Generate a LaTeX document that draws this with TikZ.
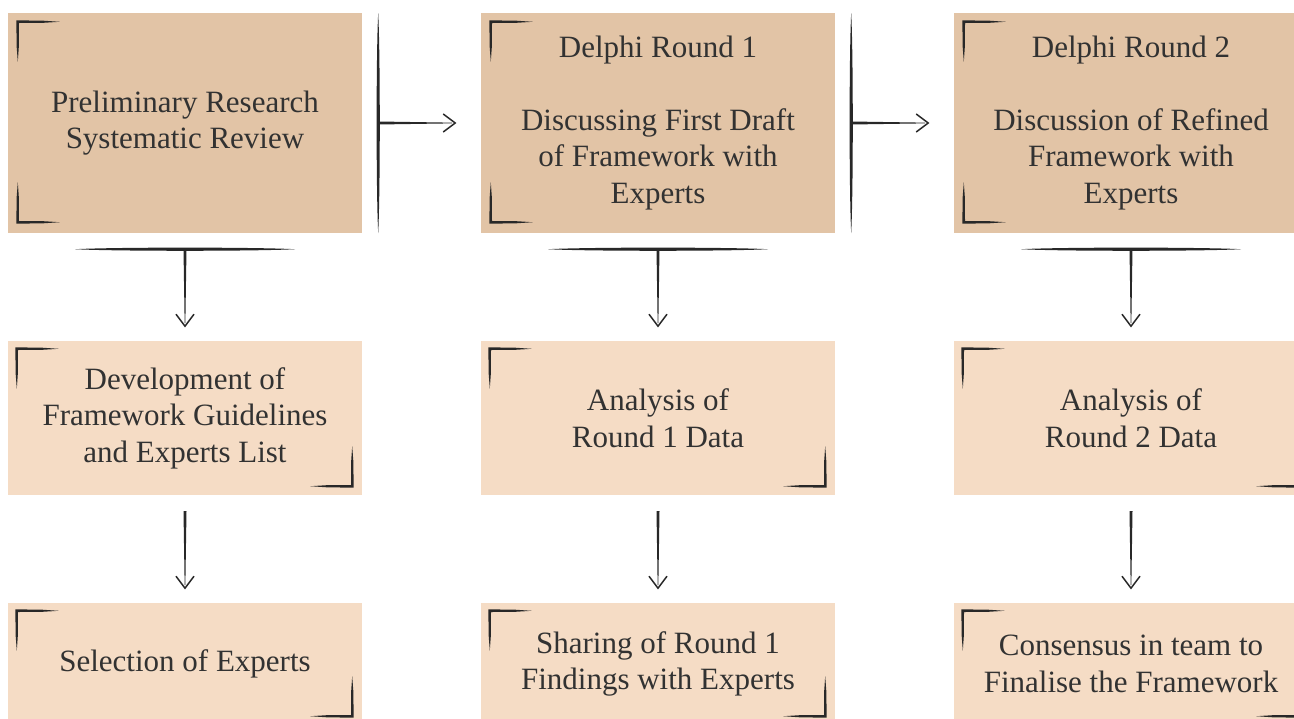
\documentclass[tikz,border=0pt]{standalone}
\usepackage{fontspec}
\setmainfont{Liberation Serif}
\usetikzlibrary{calc}
\definecolor{boxdark}{RGB}{226,196,166}
\definecolor{boxlight}{RGB}{245,220,197}
\definecolor{ink}{RGB}{40,40,40}
\definecolor{txt}{RGB}{50,50,50}

\begin{document}
\begin{tikzpicture}[x=1pt,y=-1pt,
  stage/.style={draw=none, inner sep=0pt, minimum width=354pt, align=center,
    text=txt, font=\fontsize{31}{36.5}\selectfont},
  phase/.style={stage, fill=boxdark, minimum height=220pt},
  task/.style={stage, fill=boxlight, minimum height=154pt},
  final/.style={stage, fill=boxlight, minimum height=122pt},
  % brush-like corner bracket, corner at the origin, arms to the right and down
  pics/cornermark/.style={code={
    \fill[ink] (-1.4,-1.4) -- (24,-1.2) -- (42,0) -- (24,1.1) -- (1.2,1.2)
      -- (1.1,24) -- (0,40) -- (-1.2,24) -- cycle;}},
  % tapered bar across the gap, running along local y
  pics/splitbar/.style={code={
    \fill[ink] (0,-110) .. controls (2.1,-70) and (2.1,70) .. (0,110)
      .. controls (-2.1,70) and (-2.1,-70) .. (0,-110) -- cycle;}},
  % tapered shaft with an open head, running along local x
  pics/pointer/.style={code={
    \fill[ink] (0,-1.5) -- (74,-0.35) -- (74,0.35) -- (0,1.5) -- cycle;
    \draw[ink, line width=1.5, line join=miter, miter limit=10]
      (65,-9) -- (77,0) -- (65,9);}}
]
\useasboundingbox (0,0) rectangle (1294,718);
\path[clip] (0,0) rectangle (1294,718);

% top row: research phases
\node[phase] (p1) at (185,123) {Preliminary Research\\Systematic Review};
\node[phase] (p2) at (658,123) {Delphi Round 1\\[36.5pt]Discussing First Draft\\of Framework with\\Experts};
\node[phase] (p3) at (1131,123) {Delphi Round 2\\[36.5pt]Discussion of Refined\\Framework with\\Experts};

% middle row
\node[task] (m1) at (185,418) {Development of\\Framework Guidelines\\and Experts List};
\node[task] (m2) at (658,418) {Analysis of\\Round 1 Data};
\node[task] (m3) at (1131,418) {Analysis of\\Round 2 Data};

% bottom row
\node[final] (f1) at (185,664) {Selection of Experts};
\node[final] (f2) at (658,664) {Sharing of Round 1\\Findings with Experts};
\node[final] (f3) at (1131,664) {Consensus in team to\\Finalise the Framework};

% corner brackets
\foreach \b in {p1,p2,p3}{
  \pic at ($(\b.north west)+(10,9)$) {cornermark};
  \pic[yscale=-1] at ($(\b.south west)+(10,-11)$) {cornermark};
}
\foreach \b in {m1,m2,m3,f1,f2,f3}{
  \pic at ($(\b.north west)+(9,8)$) {cornermark};
  \pic[rotate=180] at ($(\b.south east)+(-10,-9)$) {cornermark};
}

% horizontal links between phases
\coordinate (h1) at ([xshift=16pt]p1.east);
\coordinate (h2) at ([xshift=16pt]p2.east);
\foreach \j in {h1,h2}{
  \pic at (\j) {splitbar};
  \pic at (\j) {pointer};
}

% links from each phase down to its task
\coordinate (v1) at ([yshift=-16pt]p1.south);
\coordinate (v2) at ([yshift=-16pt]p2.south);
\coordinate (v3) at ([yshift=-16pt]p3.south);
\foreach \j in {v1,v2,v3}{
  \pic[rotate=-90] at (\j) {splitbar};
  \pic[rotate=-90] at (\j) {pointer};
}

% links from each task down to the final step
\coordinate (d1) at ([yshift=-16pt]m1.south);
\coordinate (d2) at ([yshift=-16pt]m2.south);
\coordinate (d3) at ([yshift=-16pt]m3.south);
\foreach \j in {d1,d2,d3}{
  \pic[rotate=-90] at (\j) {pointer};
}
\end{tikzpicture}
\end{document}
